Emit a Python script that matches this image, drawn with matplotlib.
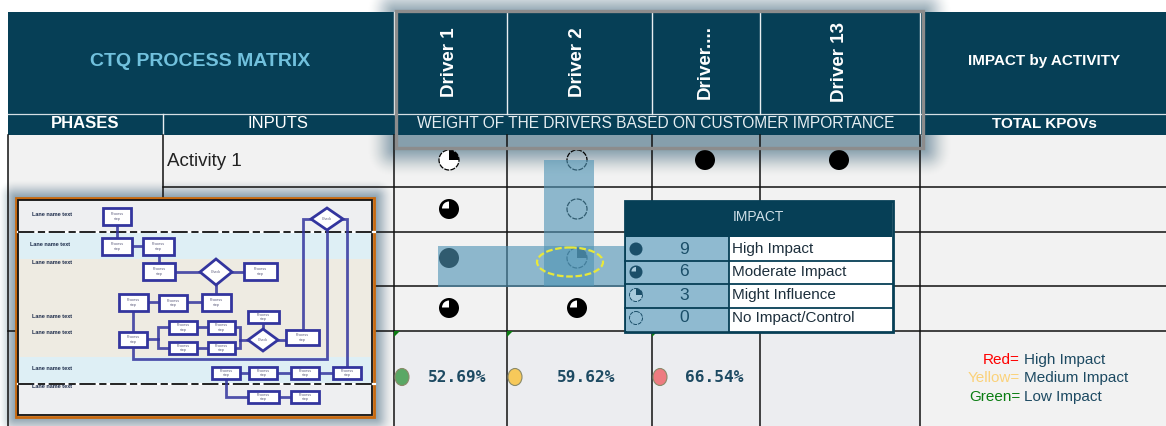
import matplotlib
matplotlib.use('Agg')
import matplotlib.pyplot as plt
from matplotlib.patches import Rectangle, Circle, Wedge, Ellipse, FancyBboxPatch, Polygon

plt.rcParams['font.family'] = ['Liberation Sans', 'DejaVu Sans']

driver_names = ['Driver 1', 'Driver 2', 'Driver....', 'Driver 13']
activity_name = 'Activity 1'
# impact score per row, per driver (None = empty cell)
row1_scores = [3, 0, 9, 9]
row2_scores = [6, 0, None, None]
row3_scores = [9, 3, None, None]
row4_scores = [6, 6, None, None]
kpov_values = ['52.69%', '59.62%', '66.54%']
kpov_colors = ['#5aa865', '#f7c95a', '#ee7b80']
legend_scores = [9, 6, 3, 0]
legend_labels = ['High Impact', 'Moderate Impact', 'Might Influence', 'No Impact/Control']
key_words = ['Red=', 'Yellow=', 'Green=']
key_colors = ['#ff0000', '#fbd27a', '#0a7d12']
key_labels = ['High Impact', 'Medium Impact', 'Low Impact']

DARK = '#063f56'
TXT = '#1d4a62'
col_x = [449, 577, 705, 839]
row_y = [160, 209, 258, 308]
grid_v = [394, 507, 652, 760, 920]
grid_h = [187, 232, 286, 331]

fig = plt.figure(figsize=(11.66, 4.26), dpi=100)
ax = fig.add_axes([0, 0, 1, 1])
ax.set_xlim(0, 1166)
ax.set_ylim(426, 0)
ax.axis('off')


def rect(x0, y0, x1, y1, **kw):
    r = Rectangle((x0, y0), x1 - x0, y1 - y0, **kw)
    ax.add_patch(r)
    return r


def shadow(x0, y0, x1, y1, spread, alpha, z):
    # outer layers fainter so the edge fades out
    for i in range(spread):
        d = spread - i
        ax.add_patch(FancyBboxPatch((x0 - d, y0 - d), x1 - x0 + 2 * d, y1 - y0 + 2 * d,
                                    boxstyle='round,pad=0,rounding_size=%d' % d,
                                    fc='#5f8296', ec='none', alpha=alpha * (i + 1) / spread, zorder=z))


def harvey(x, y, score, r=10.0, color='black', fill='white', z=4, lw=0.9):
    if score == 9:
        ax.add_patch(Circle((x, y), r, fc=color, ec='none', zorder=z))
    elif score == 6:
        ax.add_patch(Circle((x, y), r, fc=color, ec='none', zorder=z))
        ax.add_patch(Wedge((x, y - 0.5), r * 0.7, 180, 270, fc=fill, ec='none', zorder=z + 0.1))
    elif score == 3:
        ax.add_patch(Circle((x, y), r, fc=fill, ec=color, lw=lw, ls=(0, (4, 1)), zorder=z))
        ax.add_patch(Wedge((x, y), r, 270, 360, fc=color, ec='none', zorder=z + 0.1))
    else:
        ax.add_patch(Circle((x, y), r, fc='none', ec=color, lw=lw, ls=(0, (4, 1)), zorder=z))


# body of the table
rect(8, 135, 1166, 426, fc='#f2f2f2', ec='none', zorder=0)
rect(394, 331, 920, 426, fc='#ecedf0', ec='none', zorder=0.1)
shadow(396, 13, 923, 148, 28, 0.075, 0.5)
shadow(16, 198, 375, 417, 18, 0.11, 0.5)

# header
rect(8, 12, 1166, 135, fc=DARK, ec='none', zorder=1)
ax.plot([8, 1166], [114, 114], color='#d5dee3', lw=0.9, zorder=1.5)
for x in grid_v:
    ax.plot([x, x], [12, 114], color='#e8eef1', lw=1.0, zorder=1.5)
ax.plot([163, 163], [114, 135], color='#e8eef1', lw=1.0, zorder=1.5)
ax.plot([920, 920], [114, 135], color='#e8eef1', lw=1.0, zorder=1.5)

ax.text(200, 62, 'CTQ PROCESS MATRIX', color='#71c1dd', fontsize=14, fontweight='bold',
        ha='center', va='center', zorder=6)
ax.text(1044, 61, 'IMPACT by ACTIVITY', color='white', fontsize=11, fontweight='bold',
        ha='center', va='center', zorder=6)
for x, name in zip(col_x, driver_names):
    ax.text(x, 62, name, color='white', fontsize=13.5, fontweight='bold', rotation=90,
            ha='center', va='center', zorder=6)
ax.text(85, 124, 'PHASES', color='white', fontsize=12, fontweight='bold', ha='center', va='center', zorder=6)
ax.text(278, 124, 'INPUTS', color='white', fontsize=12, ha='center', va='center', zorder=6)
ax.text(656, 124, 'WEIGHT OF THE DRIVERS BASED ON CUSTOMER IMPORTANCE', color='#e6eef2', fontsize=11.2,
        ha='center', va='center', zorder=6)
ax.text(1044, 124, 'TOTAL KPOVs', color='white', fontsize=11, fontweight='bold', ha='center', va='center', zorder=6)

# grey frame round the drivers
rect(396, 11, 923, 148, fc='none', ec='#8c8c8c', lw=2.4, zorder=6.5)

# grid
ax.plot([8, 8], [135, 426], color='#111111', lw=1.1, zorder=2)
ax.plot([163, 163], [135, 200], color='#111111', lw=1.1, zorder=2)
for x in grid_v:
    ax.plot([x, x], [135, 426], color='#111111', lw=1.1, zorder=2)
for y in grid_h:
    ax.plot([163 if y < 300 else 8, 1166], [y, y], color='#111111', lw=1.1, zorder=2)
ax.text(167, 161, activity_name, color='#222222', fontsize=13.5, ha='left', va='center', zorder=6)
for x in grid_v[:3]:
    ax.add_patch(Polygon([(x, 331), (x + 6, 331), (x, 337)], fc='#0c7a12', ec='none', zorder=3))

# harvey balls
for y, scores in zip(row_y, [row1_scores, row2_scores, row3_scores, row4_scores]):
    for x, s in zip(col_x, scores):
        if s is not None:
            harvey(x, y, s)

# highlight cross
rect(544, 160, 594, 286, fc='#4f94b5', ec='none', alpha=0.62, zorder=5)
rect(438, 246, 625, 287, fc='#4f94b5', ec='none', alpha=0.62, zorder=5)
ax.add_patch(Ellipse((570, 262), 66, 29, fc='none', ec='#e8e83a', lw=1.6, ls=(0, (3, 1.2)), zorder=5.5))

# percent row
for x, xt, v, c in zip([402, 515, 660], [457, 586, 714], kpov_values, kpov_colors):
    ax.add_patch(Ellipse((x, 377), 14, 17, fc=c, ec='#8a8a6a', lw=0.8, zorder=4))
    ax.text(xt, 377, v, color=TXT, fontsize=11.6, fontweight='bold', family=['DejaVu Sans Mono'],
            ha='center', va='center', zorder=6)

# colour key
for y, w, c, l in zip([360, 378, 397], key_words, key_colors, key_labels):
    ax.text(1020, y, w, color=c, fontsize=11, ha='right', va='center', zorder=6)
    ax.text(1024, y, l, color=TXT, fontsize=11, ha='left', va='center', zorder=6)

# impact legend
rect(625, 201, 893, 332, fc='white', ec=DARK, lw=2, zorder=7)
rect(626, 202, 892, 237, fc=DARK, ec='none', zorder=7.1)
rect(626, 237, 729, 331, fc='#8fbad0', ec='none', zorder=7.1)
ax.text(758, 217, 'IMPACT', color='#cfe0e8', fontsize=10, ha='center', va='center', zorder=8)
leg_y = [249, 272, 295, 318]
for y, s, lab in zip(leg_y, legend_scores, legend_labels):
    harvey(636, y, s, r=6.5, color='#1b4f69', fill='#a9cbdc', z=7.5, lw=0.7)
    ax.text(684, y, str(s), color='#1b4f69', fontsize=12.5, ha='center', va='center', zorder=8)
    ax.text(732, y, lab, color='#1d2f3c', fontsize=11, ha='left', va='center', zorder=8)
for y in [260.5, 283.5, 307.5]:
    ax.plot([625, 893], [y, y], color=DARK, lw=1.3, zorder=7.6)
ax.plot([729, 729], [237, 332], color=DARK, lw=1.3, zorder=7.6)

# flowchart thumbnail
Zf = 10
rect(16, 198, 374, 417, fc='#eeeff1', ec='#c8690e', lw=2, zorder=Zf)
rect(19, 233, 371, 259, fc='#deeff5', ec='none', zorder=Zf + 0.1)
rect(19, 259, 371, 357, fc='#eeebe2', ec='none', zorder=Zf + 0.1)
rect(19, 357, 371, 383, fc='#deeff5', ec='none', zorder=Zf + 0.1)
rect(18, 200, 372, 415, fc='none', ec='#111111', lw=1.3, zorder=Zf + 0.2)
for y in [232, 383.5]:
    ax.plot([18, 375], [y, y], color='white', lw=1.6, zorder=Zf + 0.2)
    ax.plot([18, 372], [y, y], color='#111111', lw=1.3, ls=(0, (9, 2, 4, 2)), zorder=Zf + 0.3)

lane_labels = [(52, 214), (50, 244), (52, 263), (52, 317), (52, 332), (52, 369), (52, 386)]
for x, y in lane_labels:
    ax.text(x, y, 'Lane name text', color='#1c2b4a', fontsize=4, fontweight='bold', ha='center', va='center', zorder=Zf + 1)

BLUE = '#33359e'
boxes = [(103, 208, 131, 225), (102, 238, 132, 255), (143, 238, 174, 255), (143, 263, 175, 280),
         (244, 263, 277, 280), (202, 294, 231, 311), (159, 295, 187, 311), (119, 294, 148, 311),
         (119, 332, 147, 347), (169, 321, 197, 334), (208, 321, 235, 334), (169, 342, 197, 354),
         (208, 342, 235, 354), (248, 311, 279, 323), (286, 330, 319, 345), (212, 367, 240, 379),
         (249, 367, 277, 379), (291, 367, 319, 379), (333, 367, 361, 379), (248, 391, 279, 403),
         (291, 391, 319, 403)]
diamonds = [(216, 272, 16, 13), (263, 340, 15, 11), (327, 219, 16, 11)]
links = [[(117, 225), (117, 238)], [(132, 246), (143, 246)], [(159, 255), (159, 263)],
         [(175, 272), (200, 272)], [(232, 272), (244, 272)], [(216, 285), (216, 294)],
         [(202, 302), (187, 302)], [(159, 302), (148, 302)], [(133, 311), (133, 332)],
         [(147, 339), (158, 339), (158, 327), (169, 327)], [(158, 339), (158, 348), (169, 348)],
         [(197, 327), (208, 327)], [(197, 348), (208, 348)], [(235, 327), (240, 327), (240, 340), (248, 340)],
         [(235, 348), (240, 348), (240, 340)], [(263, 323), (263, 329)], [(278, 340), (286, 340)],
         [(303, 330), (303, 219), (311, 219)], [(327, 230), (327, 359), (133, 359), (133, 347)],
         [(343, 219), (347, 219), (347, 367)], [(333, 373), (319, 373)], [(291, 373), (277, 373)],
         [(249, 373), (240, 373)], [(226, 379), (226, 397), (248, 397)], [(279, 397), (291, 397)]]
for pts in links:
    ax.plot([p[0] for p in pts], [p[1] for p in pts], color=BLUE, lw=2.0, alpha=0.85,
            solid_joinstyle='miter', zorder=Zf + 0.5)
for x0, y0, x1, y1 in boxes:
    rect(x0, y0, x1, y1, fc='white', ec=BLUE, lw=2.0, zorder=Zf + 0.6)
    ax.text((x0 + x1) / 2, (y0 + y1) / 2, 'Process\nstep', color='#555577', fontsize=2.6,
            ha='center', va='center', zorder=Zf + 1)
for cx, cy, hw, hh in diamonds:
    ax.add_patch(Polygon([(cx - hw, cy), (cx, cy - hh), (cx + hw, cy), (cx, cy + hh)], fc='white',
                         ec=BLUE, lw=2.0, zorder=Zf + 0.6))
    ax.text(cx, cy, 'Check', color='#555577', fontsize=2.6, ha='center', va='center', zorder=Zf + 1)

fig.savefig('out.png', dpi=100)
